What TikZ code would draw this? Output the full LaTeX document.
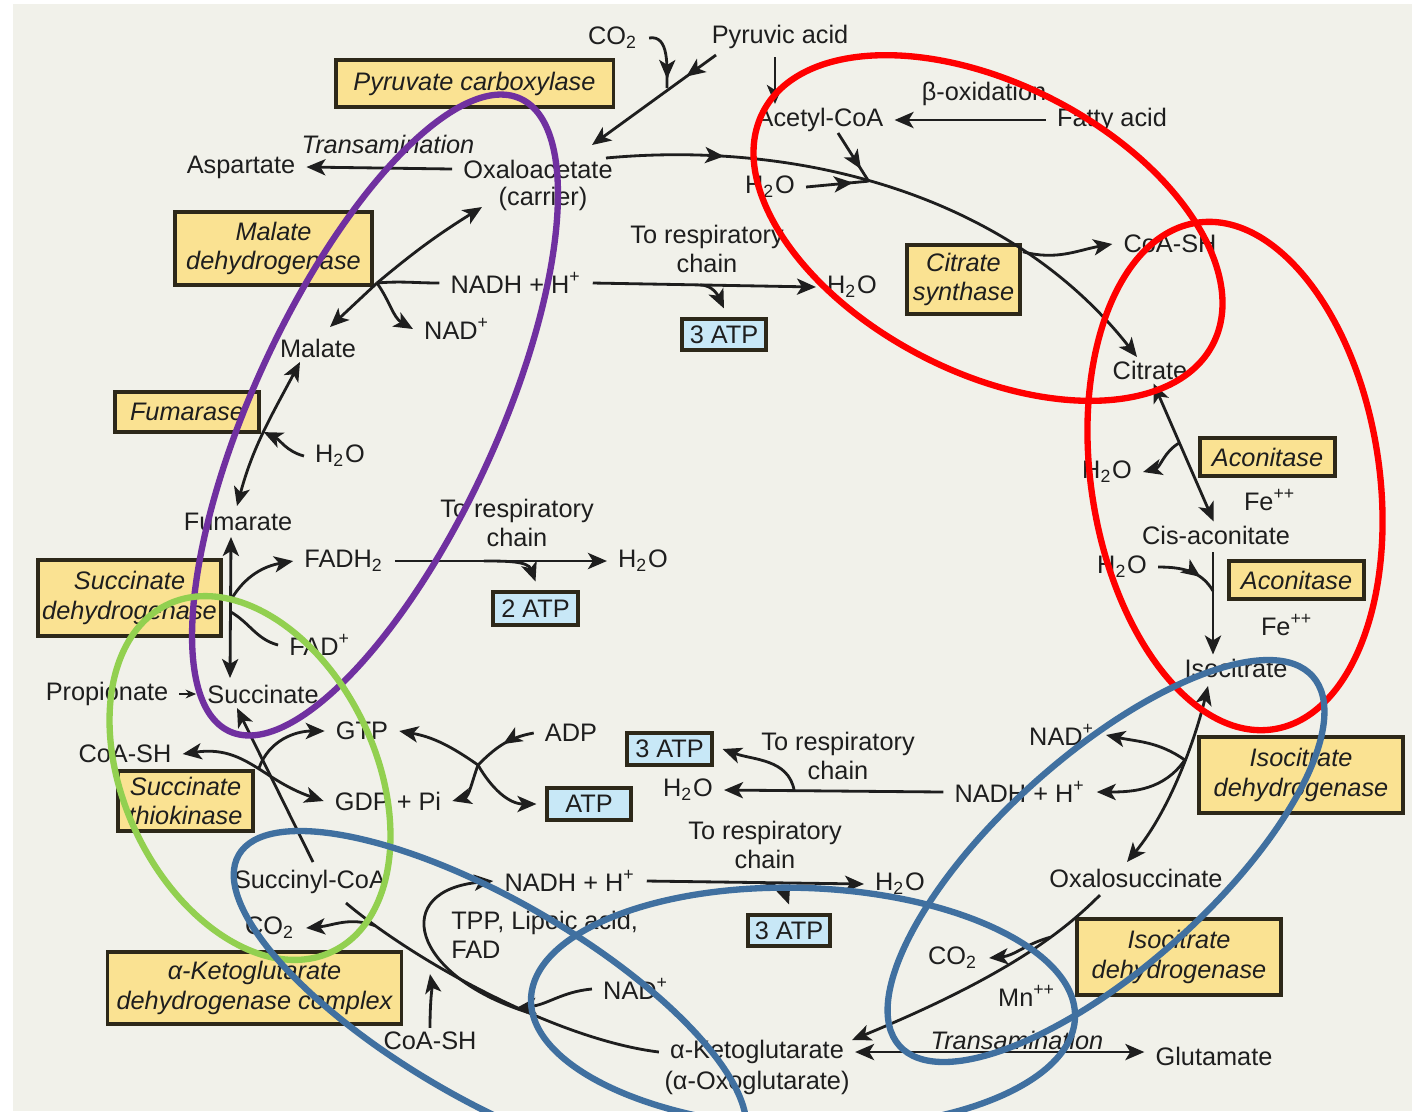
\documentclass[tikz,border=0pt]{standalone}
\usepackage{fontspec}
\setmainfont{Liberation Sans}
\usetikzlibrary{arrows.meta,decorations.markings}

\definecolor{bgc}{RGB}{241,241,234}
\definecolor{enzc}{RGB}{250,226,146}
\definecolor{atpc}{RGB}{200,232,247}
\definecolor{inkc}{RGB}{30,30,30}
\definecolor{boxline}{RGB}{45,40,25}
\definecolor{ringpur}{RGB}{112,48,160}
\definecolor{ringred}{RGB}{255,0,0}
\definecolor{ringgrn}{RGB}{146,208,80}
\definecolor{ringblu}{RGB}{64,112,160}

\tikzset{
  lbl/.style={inner xsep=3pt, inner ysep=1pt, text=inkc},
  enzyme/.style 2 args={draw=boxline, line width=0.9pt, fill=enzc, text=inkc,
    font=\fontsize{7.2}{8.4}\selectfont\itshape, align=center, inner sep=0pt,
    minimum width=#1cm, minimum height=#2cm},
  atpbox/.style 2 args={draw=boxline, line width=0.9pt, fill=atpc, text=inkc,
    inner sep=0pt, outer sep=3pt, minimum width=#1cm, minimum height=#2cm},
  rxn/.style={color=inkc, line width=0.8pt},
  midarrow/.style={postaction={decorate},
    decoration={markings, mark=at position #1 with {\arrow{>}}}},
  hilite/.style={line width=1.8pt, draw=#1},
}

\begin{document}
\begin{tikzpicture}[x=0.01cm, y=-0.01cm, font=\fontsize{7.2}{8.4}\selectfont,
  >={Stealth[length=5.4pt,width=4.6pt,inset=1.4pt]}]
\useasboundingbox (0,0) rectangle (1412,1111);
\fill[white] (0,0) rectangle (1412,1111);
\fill[bgc] (13,4) rectangle (1412,1111);

% ---- labels
\node[lbl] (co2a) at (613,38) {CO\textsubscript{2}};
\node[lbl] (pyr) at (780,37) {Pyruvic acid};
\node[enzyme={2.77}{0.47}] (pcbox) at (474.5,83.5) {Pyruvate carboxylase};
\node[lbl, font=\fontsize{7.2}{8.4}\selectfont\itshape] (trans1) at (388,144) {Transamination};
\node[lbl] (asp) at (241,167) {Aspartate};
\node[lbl] (oaa) at (538,169) {Oxaloacetate};
\node[lbl] (carr) at (543,199) {(carrier)};
\node[enzyme={1.97}{0.73}] (mdh) at (273.5,248.5) {Malate\\dehydrogenase};
\node[lbl] (nadh1) at (516,283) {NADH + H\textsuperscript{+}};
\node[lbl] (nad1) at (457,329) {NAD\textsuperscript{+}};
\node[lbl] (mal) at (318,348) {Malate};
\node[lbl, align=center] (resp1) at (707,249) {To respiratory\\chain};
\node[lbl] (h2o1) at (852,287) {H\textsubscript{2}O};
\node[atpbox={0.84}{0.31}] (atp1) at (724,334.5) {3 ATP};
\node[lbl] (acoa) at (820,120) {Acetyl-CoA};
\node[lbl] (boxd) at (984,94) {β-oxidation};
\node[lbl] (fatty) at (1112,120) {Fatty acid};
\node[lbl] (h2o2) at (770,187) {H\textsubscript{2}O};
\node[enzyme={1.13}{0.69}] (csbox) at (963.5,279.5) {Citrate\\synthase};
\node[lbl] (coash1) at (1170,244) {CoA-SH};
\node[lbl] (cit) at (1150,370) {Citrate};
\node[enzyme={1.35}{0.38}] (acon1) at (1267.5,457) {Aconitase};
\node[lbl] (fe1) at (1270,500) {Fe\textsuperscript{++}};
\node[lbl] (h2o3) at (1107,472) {H\textsubscript{2}O};
\node[lbl] (cis) at (1216,535) {Cis-aconitate};
\node[lbl] (h2o4) at (1122,567) {H\textsubscript{2}O};
\node[enzyme={1.35}{0.38}] (acon2) at (1296.5,580) {Aconitase};
\node[lbl] (fe2) at (1287,625) {Fe\textsuperscript{++}};
\node[lbl] (iso) at (1236,668) {Isocitrate};
\node[lbl] (nad2) at (1062,735) {NAD\textsuperscript{+}};
\node[lbl] (nadh2) at (1020,792) {NADH + H\textsuperscript{+}};
\node[enzyme={2.04}{0.76}] (idh1) at (1301,775) {Isocitrate\\dehydrogenase};
\node[lbl] (oxs) at (1136,878) {Oxalosuccinate};
\node[enzyme={2.04}{0.76}] (idh2) at (1179,957) {Isocitrate\\dehydrogenase};
\node[lbl] (co2b) at (953,958) {CO\textsubscript{2}};
\node[lbl] (mn) at (1027,996) {Mn\textsuperscript{++}};
\node[lbl, font=\fontsize{7.2}{8.4}\selectfont\itshape] (trans2) at (1017,1040) {Transamination};
\node[lbl] (glu) at (1214,1056) {Glutamate};
\node[lbl] (akg) at (757,1052) {α-Ketoglutarate};
\node[lbl] (oxo) at (757,1083) {(α-Oxoglutarate)};
\node[lbl] (nad3) at (636,989) {NAD\textsuperscript{+}};
\node[atpbox={0.82}{0.31}] (atp2) at (789,930.5) {3 ATP};
\node[lbl, align=center] (resp2) at (765,845) {To respiratory\\chain};
\node[lbl] (nadh3) at (570,881) {NADH + H\textsuperscript{+}};
\node[lbl] (h2o5) at (900,884) {H\textsubscript{2}O};
\node[lbl, align=left, anchor=west] (tpp) at (440,935) {TPP, Lipoic acid,\\FAD};
\node[lbl] (coash2) at (430,1041) {CoA-SH};
\node[enzyme={2.93}{0.72}] (akgdh) at (254.5,988) {α-Ketoglutarate\\dehydrogenase complex};
\node[lbl] (co2c) at (270,928) {CO\textsubscript{2}};
\node[lbl] (scoa) at (310,882) {Succinyl-CoA};
\node[enzyme={1.35}{0.60}] (stk) at (185.5,801) {Succinate\\thiokinase};
\node[lbl] (coash3) at (125,754) {CoA-SH};
\node[lbl] (gtp) at (362,731) {GTP};
\node[lbl] (gdp) at (388,801) {GDP + Pi};
\node[lbl] (adp) at (571,733) {ADP};
\node[atpbox={0.84}{0.32}] (atp3) at (589,804) {ATP};
\node[atpbox={0.85}{0.32}] (atp4) at (669.5,749) {3 ATP};
\node[lbl, align=center] (resp3) at (838,756) {To respiratory\\chain};
\node[lbl] (h2o6) at (688,790) {H\textsubscript{2}O};
\node[lbl] (prop) at (107,694) {Propionate};
\node[lbl] (succ) at (263,694) {Succinate};
\node[enzyme={1.83}{0.76}] (sdh) at (129.5,598) {Succinate\\dehydrogenase};
\node[lbl] (fadh) at (344,561) {FADH\textsubscript{2}};
\node[lbl] (fad) at (320,645) {FAD\textsuperscript{+}};
\node[lbl, align=center] (resp4) at (517,523) {To respiratory\\chain};
\node[lbl] (h2o7) at (643,561) {H\textsubscript{2}O};
\node[atpbox={0.85}{0.33}] (atp5) at (535.5,608.5) {2 ATP};
\node[lbl] (fum) at (238,522) {Fumarate};
\node[enzyme={1.44}{0.40}] (fumase) at (187,412) {Fumarase};
\node[lbl] (h2o8) at (340,456) {H\textsubscript{2}O};

% ---- pyruvate entry
\coordinate (pyrl) at (716,55);
\coordinate (oaat) at (592,145);
\coordinate (pcj) at (667,88);
\coordinate (pyrd) at (775,57);
\draw[rxn,->,midarrow=0.24] (pyrl) -- (oaat);
\draw[rxn,midarrow=0.85] (co2a.east) to[out=10,in=90] (pcj);
\draw[rxn,->] (pyrd) -- (pyrd |- acoa.north);
\draw[rxn,->] (fatty.west) -- (acoa.east);
\draw[rxn,->] (oaa.west) -- (asp.east);

% ---- citrate synthase
\coordinate (oaar) at (606,158);
\coordinate (citt) at (1137,357);
\coordinate (acoab) at (838,133);
\draw[rxn,->,midarrow=0.2] (oaar) .. controls (800,140) and (1010,195) .. (citt)
  coordinate[pos=0.45] (csj) coordinate[pos=0.74] (cs2);
\draw[rxn,midarrow=0.75] (acoab) -- (csj);
\draw[rxn,midarrow=0.75] (h2o2.east) -- (csj);
\draw[rxn,->] (cs2) to[out=-15,in=190] (coash1.west);

% ---- aconitase
\draw[rxn,<->] (cit.-75) -- (cis.100) coordinate[pos=0.43] (acj1);
\draw[rxn,->] (acj1) to[out=-150,in=15] (h2o3.east);
\coordinate (cisd) at (1213,552);
\draw[rxn,->] (cisd) -- (cisd |- iso.north) coordinate[pos=0.38] (acj2);
\draw[rxn,midarrow=0.7] (h2o4.east) to[out=0,in=120] (acj2);

% ---- isocitrate dehydrogenase
\coordinate (isob) at (1208,686);
\coordinate (oxst) at (1127,862);
\draw[rxn,<->] (isob) .. controls (1195,740) and (1170,810) .. (oxst) coordinate[pos=0.42] (idj);
\draw[rxn,->] (idj) to[out=145,in=-12] (nad2.east);
\draw[rxn,->] (idj) to[out=-125,in=0] (nadh2.east);
\draw[rxn,->] (nadh2.west) -- (h2o6.east) coordinate[pos=0.68] (rj3);
\draw[rxn,->] (rj3) to[out=100,in=-20] (atp4.east);
\coordinate (oxsb) at (1100,895);
\coordinate (akgr) at (852,1040);
\draw[rxn,->] (oxsb) .. controls (1065,930) and (1010,975) .. (akgr) coordinate[pos=0.36] (oxj);
\draw[rxn,->] (oxj) to[out=-165,in=5] (co2b.east);
\draw[rxn,<->] (akg.east) -- (akg.east -| glu.west);

% ---- alpha-ketoglutarate dehydrogenase
\coordinate (scoab) at (346,903);
\draw[rxn] (akg.west) .. controls (560,1040) and (420,965) .. (scoab)
  coordinate[pos=0.4] (akj2) coordinate[pos=0.43] (akj1)
  coordinate[pos=0.7] (akj3) coordinate[pos=0.88] (akj4);
\draw[rxn,->] (nad3.west) to[out=-175,in=5] (akj1);
\draw[rxn,->] (akj2) .. controls (410,975) and (390,890) .. (nadh3.west);
\draw[rxn,->,shorten >=4pt] (coash2.north) to[out=90,in=-80] (akj3);
\draw[rxn,->] (akj4) to[out=160,in=5] (co2c.east);
\draw[rxn,->] (nadh3.east) -- (h2o5.west) coordinate[pos=0.52] (rj2);
\draw[rxn,->] (rj2) to[out=0,in=110] (atp2.north);

% ---- succinate thiokinase
\coordinate (scoat) at (313,862);
\coordinate (succb) at (237,708);
\coordinate (stj) at (259,768);
\coordinate (xj) at (478,765);
\draw[rxn,->] (scoat) -- (succb);
\draw[rxn,<->] (coash3.east) .. controls (245,745) and (262,780) .. (gdp.west);
\draw[rxn,->] (stj) to[out=70,in=180] (gtp.west);
\draw[rxn,->] (xj) to[out=145,in=-10] (gtp.east);
\draw[rxn,->] (xj) to[out=-110,in=15] (gdp.east);
\draw[rxn,midarrow=0.5] (adp.west) to[out=190,in=45] (xj);
\draw[rxn,->] (xj) to[out=-60,in=180] (atp3.west);
\draw[rxn,->,line width=0.4pt,>={Stealth[length=3pt,width=2.5pt]}] (prop.east) -- (succ.west);

% ---- succinate dehydrogenase
\coordinate (fumb) at (231,537);
\coordinate (succt) at (230,678);
\draw[rxn,<->] (fumb) -- (succt) coordinate[pos=0.45] (sdj1) coordinate[pos=0.53] (sdj2);
\draw[rxn,->] (sdj1) to[out=60,in=-170] (fadh.west);
\draw[rxn] (fad.west) to[out=165,in=-30] (sdj2);
\draw[rxn,->] (fadh.east) -- (h2o7.west) coordinate[pos=0.42] (rj4);
\draw[rxn,->] (rj4) to[out=0,in=110] (atp5.north);

% ---- fumarase
\coordinate (fumt) at (237,506);
\coordinate (malb) at (300,362);
\draw[rxn,<->] (fumt) to[out=75,in=-118] node[coordinate,pos=0.5] (fmj) {} (malb);
\draw[rxn,->] (h2o8.west) to[out=165,in=-25] (fmj);

% ---- malate dehydrogenase
\coordinate (malt) at (330,327);
\coordinate (mdj) at (377,283);
\coordinate (oaal) at (482,207);
\draw[rxn,->] (mdj) -- (malt);
\draw[rxn,->] (mdj) to[out=40,in=-148] (oaal);
\draw[rxn] (nadh1.west) to[out=180,in=5] (mdj);
\draw[rxn,->] (mdj) to[out=-55,in=150] (nad1.west);
\draw[rxn,->] (nadh1.east) -- (h2o1.west) coordinate[pos=0.48] (rj1);
\draw[rxn,->] (rj1) to[out=0,in=115] (atp1.north);

% ---- hand-drawn rings
\begin{scope}
\clip (0,0) rectangle (1412,1111);
\draw[hilite=ringpur, rotate around={65.3:(375,415)}] (375,415) ellipse [x radius=3.48cm, y radius=1.22cm];
\draw[hilite=ringred, rotate around={-27.3:(988,228)}] (988,228) ellipse [x radius=2.53cm, y radius=1.44cm];
\draw[hilite=ringred, rotate around={98.6:(1235,476)}] (1235,476) ellipse [x radius=2.56cm, y radius=1.44cm];
\draw[hilite=ringgrn, rotate around={-64.7:(250,778)}] (250,778) ellipse [x radius=1.92cm, y radius=1.26cm];
\draw[hilite=ringblu, rotate around={-30:(490,1000)}] (490,1000) ellipse [x radius=2.9cm, y radius=1.0cm];
\draw[hilite=ringblu, rotate around={-2:(803,1008)}] (803,1008) ellipse [x radius=2.72cm, y radius=1.2cm];
\draw[hilite=ringblu, rotate around={41.8:(1106,861)}] (1106,861) ellipse [x radius=2.77cm, y radius=1.06cm];
\end{scope}
\end{tikzpicture}
\end{document}
